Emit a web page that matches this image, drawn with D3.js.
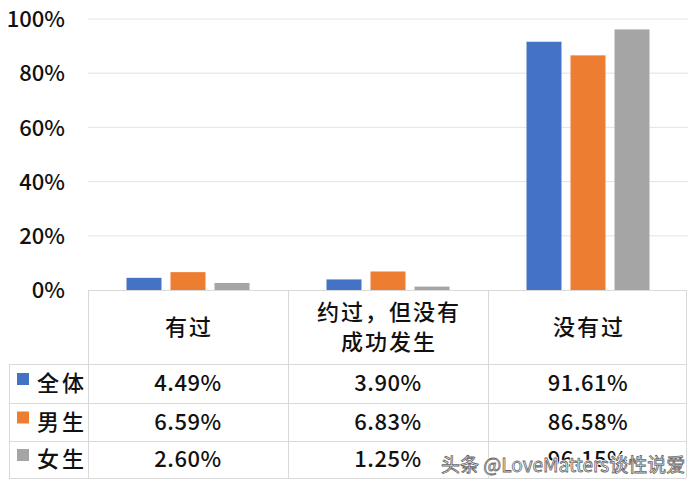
<!DOCTYPE html>
<html><head><meta charset="utf-8">
<script src="https://cdn.jsdelivr.net/npm/d3@7/dist/d3.min.js"></script>
<style>
body{margin:0;background:#fff;}
svg{display:block;font-family:"Noto Sans CJK SC","Noto Sans",sans-serif;}
</style></head>
<body><svg id="c" width="692" height="487"></svg>
<script>
const categories = ["有过", "约过，但没有\n成功发生", "没有过"];
const seriesNames = ["全体", "男生", "女生"];
const quanti = [4.49, 3.90, 91.61];
const nansheng = [6.59, 6.83, 86.58];
const nvsheng = [2.60, 1.25, 96.15];
const yTicks = [0, 20, 40, 60, 80, 100];
const colors = ["#4472C4", "#ED7D31", "#A5A5A5"];
const seriesValues = [quanti, nansheng, nvsheng];
const watermark = "头条 @LoveMatters谈性说爱";

const svg = d3.select("#c");
const L = 88, R = 688, T = 19, B = 290;
const tableRight = 686, tableLeft = 9;
const rowLines = [290, 364, 403, 441, 478];
const FS = 22, FW = 500, INK = "#111";

const x0 = d3.scaleBand().domain(d3.range(categories.length)).range([L, R]);
const x1 = d3.scaleBand().domain(d3.range(seriesNames.length)).range([38.5, 161.5]).paddingInner(0.205);
const y = d3.scaleLinear().domain([0, 100]).range([B, T]);

// gridlines
svg.append("g").selectAll("line").data(yTicks.filter(d => d > 0)).join("line")
  .attr("x1", L).attr("x2", R).attr("y1", d => y(d)).attr("y2", d => y(d))
  .attr("stroke", "#e3e3e3").attr("stroke-width", 1);

// y axis labels
const yAxis = d3.axisLeft(y).tickValues(yTicks).tickFormat(d => d + "%").tickSize(0).tickPadding(0);
const ga = svg.append("g").attr("transform", "translate(65,0)").call(yAxis);
ga.select(".domain").remove();
ga.selectAll("text").attr("font-size", FS).attr("font-weight", FW).attr("fill", INK)
  .attr("font-family", '"Noto Sans CJK SC","Noto Sans",sans-serif').attr("dy", "0.35em");

// bars
const groups = svg.append("g").selectAll("g").data(categories.map((c, i) => i)).join("g")
  .attr("transform", i => `translate(${x0(i)},0)`);
groups.selectAll("rect").data(i => seriesValues.map((s, j) => ({j, v: s[i]}))).join("rect")
  .attr("x", d => x1(d.j)).attr("width", x1.bandwidth())
  .attr("y", d => y(d.v)).attr("height", d => B - y(d.v))
  .attr("fill", d => colors[d.j]);

// table lines
const tl = svg.append("g").attr("stroke", "#d9d9d9").attr("stroke-width", 1);
tl.append("line").attr("x1", L).attr("x2", tableRight).attr("y1", B + 0.5).attr("y2", B + 0.5);
rowLines.slice(1).forEach(yy => tl.append("line").attr("x1", tableLeft).attr("x2", tableRight).attr("y1", yy + 0.5).attr("y2", yy + 0.5));
[L, x0(1), x0(2), tableRight].forEach(xx => tl.append("line").attr("x1", xx + 0.5).attr("x2", xx + 0.5).attr("y1", B).attr("y2", 478));
tl.append("line").attr("x1", tableLeft + 0.5).attr("x2", tableLeft + 0.5).attr("y1", 364).attr("y2", 478);

// header category labels
categories.forEach((c, i) => {
  const lines = c.split("\n");
  const cx = x0(i) + x0.bandwidth() / 2;
  const cy = (290 + 364) / 2;
  const lh = 30;
  lines.forEach((ln, k) => {
    svg.append("text").attr("x", cx + 1).attr("y", cy + (k - (lines.length - 1) / 2) * lh)
      .attr("text-anchor", "middle").attr("dy", "0.35em").attr("font-size", FS).attr("font-weight", FW)
      .attr("letter-spacing", 2).attr("fill", INK).text(ln);
  });
});

// rows
seriesNames.forEach((name, j) => {
  const cy = (rowLines[j + 1] + rowLines[j + 2]) / 2;
  svg.append("rect").attr("x", 17).attr("y", cy - 10.5).attr("width", 12).attr("height", 12).attr("fill", colors[j]);
  svg.append("text").attr("x", 37).attr("y", cy).attr("dy", "0.35em").attr("font-size", FS).attr("font-weight", FW)
    .attr("letter-spacing", 3).attr("fill", INK).text(name);
  seriesValues[j].forEach((v, i) => {
    svg.append("text").attr("x", x0(i) + x0.bandwidth() / 2).attr("y", cy).attr("dy", "0.35em")
      .attr("text-anchor", "middle").attr("font-size", FS).attr("font-weight", FW).attr("letter-spacing", 0.5).attr("fill", INK)
      .text(v.toFixed(2) + "%");
  });
});

// watermark
const wm = svg.append("g").attr("font-family", '"Noto Sans CJK SC","Noto Sans",sans-serif').attr("font-size", 19);
wm.append("text").attr("x", 441).attr("y", 472).text(watermark)
  .attr("fill", "#fff").attr("stroke", "#fff").attr("stroke-width", 2.5).attr("stroke-linejoin", "round");
wm.append("text").attr("x", 441).attr("y", 472).text(watermark)
  .attr("fill", "#fff").attr("stroke", "#666").attr("stroke-width", 0.8);
</script></body></html>
